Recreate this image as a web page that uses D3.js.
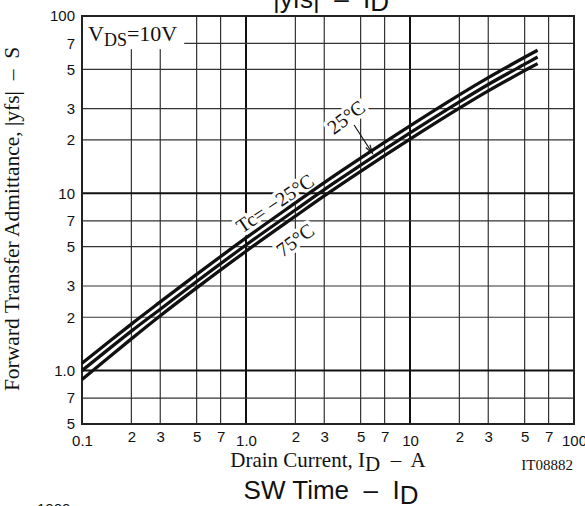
<!DOCTYPE html>
<html>
<head>
<meta charset="utf-8">
<script src="https://cdn.jsdelivr.net/npm/d3@7"></script>
<style>
  html, body { margin: 0; padding: 0; background: #fff; }
  svg { display: block; }
  .sans { font-family: "Liberation Sans", Arial, sans-serif; }
  .serif { font-family: "Liberation Serif", "Times New Roman", serif; }
</style>
</head>
<body>
<svg id="chart" width="585" height="506"></svg>
<script>
// Drain current (A) at which the curves are sampled
const drainCurrent = [0.1, 0.2, 0.3, 0.5, 1, 2, 3, 5, 10, 20, 30, 50, 60];
// Forward transfer admittance |yfs| (S) per case temperature
const yfsMinus25 = [1.10, 1.83, 2.44, 3.49, 5.60, 8.83, 11.5, 15.8, 24.0, 35.9, 44.9, 58.5, 64.1];
const yfs25      = [1.00, 1.67, 2.22, 3.18, 5.11, 8.05, 10.5, 14.4, 21.9, 32.8, 41.1, 53.5, 58.7];
const yfs75      = [0.89, 1.51, 2.04, 2.93, 4.71, 7.43, 9.67, 13.3, 20.2, 30.2, 37.8, 49.2, 53.9];

// Tick values and their labels
const xTicks = [0.1, 0.2, 0.3, 0.5, 0.7, 1, 2, 3, 5, 7, 10, 20, 30, 50, 70, 100];
const xTickLabels = ["0.1", "2", "3", "5", "7", "1.0", "2", "3", "5", "7", "10", "2", "3", "5", "7", "100"];
const yTicks = [0.5, 0.7, 1, 2, 3, 5, 7, 10, 20, 30, 50, 70, 100];
const yTickLabels = ["5", "7", "1.0", "2", "3", "5", "7", "10", "2", "3", "5", "7", "100"];
const decades = [0.1, 1, 10, 100];

const svg = d3.select("#chart");
const L = 82, R = 574, T = 16, B = 424;

const x = d3.scaleLog().domain([0.1, 100]).range([L, R]);
const y = d3.scaleLog().domain([0.5, 100]).range([B, T]);

// Grid
const grid = svg.append("g");
xTicks.filter(v => v > 0.1 && v < 100).forEach(v => {
  const major = v === 1 || v === 10;
  grid.append("line")
    .attr("x1", x(v)).attr("x2", x(v)).attr("y1", T).attr("y2", B)
    .attr("stroke", major ? "#111" : "#333")
    .attr("stroke-width", major ? 2 : 1.2);
});
yTicks.filter(v => v > 0.5 && v < 100).forEach(v => {
  const major = v === 1 || v === 10;
  grid.append("line")
    .attr("x1", L).attr("x2", R).attr("y1", y(v)).attr("y2", y(v))
    .attr("stroke", major ? "#111" : "#333")
    .attr("stroke-width", major ? 2 : 1.2);
});

// Condition box, top-left
svg.append("rect")
  .attr("x", x(0.1)).attr("y", y(100))
  .attr("width", x(0.42) - x(0.1)).attr("height", y(65) - y(100))
  .attr("fill", "#fff");
const vds = svg.append("text").attr("class", "serif")
  .attr("x", 88).attr("y", 41).attr("font-size", 22).attr("fill", "#111");
vds.append("tspan").text("V");
vds.append("tspan").attr("dy", 5).attr("font-size", 18).text("DS");
vds.append("tspan").attr("dy", -5).text("=10V");

// Frame
svg.append("rect")
  .attr("x", L).attr("y", T).attr("width", R - L).attr("height", B - T)
  .attr("fill", "none").attr("stroke", "#222").attr("stroke-width", 2);

// Axes (labels only)
const xAxis = d3.axisBottom(x).tickValues(xTicks).tickSize(0)
  .tickFormat((d, i) => xTickLabels[i]);
const gx = svg.append("g").attr("transform", `translate(0,${B})`).call(xAxis);
gx.select(".domain").remove();
gx.selectAll("text")
  .attr("class", "sans").attr("font-size", 15).attr("fill", "#111")
  .attr("y", d => decades.includes(d) ? 11 : 7.5);

const yAxis = d3.axisLeft(y).tickValues(yTicks).tickSize(0).tickPadding(7)
  .tickFormat((d, i) => yTickLabels[i]);
const gy = svg.append("g").attr("transform", `translate(${L},0)`).call(yAxis);
gy.select(".domain").remove();
gy.selectAll("text").attr("class", "sans").attr("font-size", 15).attr("fill", "#111");

// Curve labels with white halos
const labels = [
  { text: "Tc= \u221225\u00b0C", cx: 1.50, cy: 8.8, angle: -34 },
  { text: "75\u00b0C", cx: 1.99, cy: 5.46, angle: -36 },
  { text: "25\u00b0C", cx: 4.07, cy: 26.9, angle: -37 }
];
labels.forEach(l => {
  svg.append("text").attr("class", "serif")
    .attr("transform", `translate(${x(l.cx)},${y(l.cy)}) rotate(${l.angle})`)
    .attr("text-anchor", "middle").attr("dominant-baseline", "central")
    .attr("font-size", 20).attr("fill", "#111")
    .attr("stroke", "#fff").attr("stroke-width", 7).attr("paint-order", "stroke")
    .attr("stroke-linejoin", "round")
    .text(l.text);
});

// Curves
const line = d3.line()
  .x(d => x(d[0])).y(d => y(d[1]))
  .curve(d3.curveCatmullRom.alpha(0.5));
[yfsMinus25, yfs25, yfs75].forEach(s => {
  svg.append("path")
    .attr("d", line(drainCurrent.map((c, i) => [c, s[i]])))
    .attr("fill", "none").attr("stroke", "#111").attr("stroke-width", 3.3);
});

// Arrow from the 25°C label to its curve
const a0 = [x(4.56), y(24.3)], a1 = [x(5.91), y(16.8)];
const ang = Math.atan2(a1[1] - a0[1], a1[0] - a0[0]);
const head = 9, spread = 0.28;
svg.append("path")
  .attr("d", `M${a0[0]},${a0[1]}L${a1[0]},${a1[1]}` +
    `M${a1[0] - head * Math.cos(ang - spread)},${a1[1] - head * Math.sin(ang - spread)}` +
    `L${a1[0]},${a1[1]}` +
    `L${a1[0] - head * Math.cos(ang + spread)},${a1[1] - head * Math.sin(ang + spread)}`)
  .attr("fill", "none").attr("stroke", "#111").attr("stroke-width", 1.1);

// Axis titles
const xt = svg.append("text").attr("class", "serif")
  .attr("x", 328).attr("y", 467).attr("text-anchor", "middle")
  .attr("font-size", 21).attr("fill", "#111").attr("xml:space", "preserve");
xt.append("tspan").text("Drain Current, I");
xt.append("tspan").attr("dy", 4).text("D");
xt.append("tspan").attr("dy", -4).text("  \u2013  A");

svg.append("text").attr("class", "serif")
  .attr("transform", "translate(19,219) rotate(-90)")
  .attr("text-anchor", "middle").attr("font-size", 21.5).attr("fill", "#111")
  .attr("xml:space", "preserve")
  .text("Forward Transfer Admittance, |yfs|  \u2013  S");

svg.append("text").attr("class", "serif")
  .attr("x", 573).attr("y", 470).attr("text-anchor", "end")
  .attr("font-size", 15).attr("fill", "#111")
  .text("IT08882");

// Chart titles (this one and its neighbours on the sheet)
function title(yPos, head, dyD) {
  const t = svg.append("text").attr("class", "sans")
    .attr("x", 331).attr("y", yPos).attr("text-anchor", "middle")
    .attr("font-size", 26).attr("fill", "#111").attr("xml:space", "preserve");
  t.append("tspan").text(head);
  t.append("tspan").attr("dy", dyD).text("D");
}
title(8, "|yfs|  \u2013  I", 3);
title(499, "SW Time  \u2013  I", 5);

svg.append("text").attr("class", "sans")
  .attr("x", 37).attr("y", 514).attr("font-size", 15).attr("fill", "#111")
  .text("1000");
</script>
</body>
</html>
